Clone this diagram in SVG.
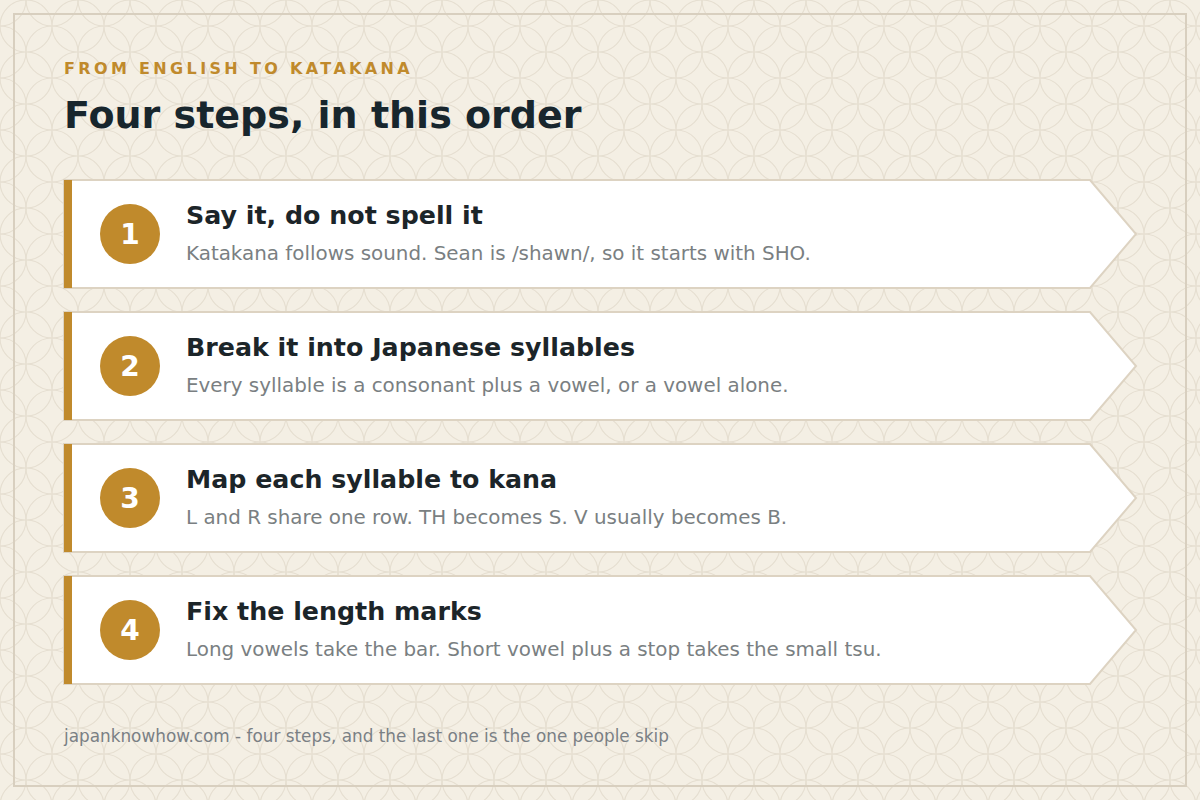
<svg xmlns="http://www.w3.org/2000/svg" width="1200" height="800" viewBox="0 0 1200 800">
<defs>
<pattern id="shippo" x="0" y="0" width="52" height="52" patternUnits="userSpaceOnUse">
<g fill="none" stroke="#e6dfd1" stroke-width="1.2">
<circle cx="0" cy="0" r="26"/><circle cx="52" cy="0" r="26"/><circle cx="0" cy="52" r="26"/><circle cx="52" cy="52" r="26"/><circle cx="26" cy="26" r="26"/>
</g>
</pattern>
<style>
.card{fill:#ffffff;stroke:#ddd3c2;stroke-width:2}
.bar{fill:#c08a2c}
.badge{fill:#c08a2c}
.num{font-family:"DejaVu Sans",sans-serif;font-weight:bold;font-size:28px;fill:#ffffff;text-anchor:middle}
.title{font-family:"DejaVu Sans",sans-serif;font-weight:bold;font-size:25.3px;fill:#1c2529}
.desc{font-family:"DejaVu Sans",sans-serif;font-size:19.9px;fill:#7a7f82}
</style>
</defs>
<rect x="0" y="0" width="1200" height="800" fill="#f4efe4"/>
<rect x="0" y="0" width="1200" height="800" fill="url(#shippo)"/>
<rect x="14" y="14" width="1172" height="772" fill="none" stroke="#d8cfbf" stroke-width="2"/>
<text x="64" y="74" font-family="DejaVu Sans,sans-serif" font-weight="bold" font-size="16" letter-spacing="3.35" fill="#c08a2c">FROM ENGLISH TO KATAKANA</text>
<text x="64" y="128" font-family="DejaVu Sans,sans-serif" font-weight="bold" font-size="38" fill="#18262d">Four steps, in this order</text>
<g id="connectors"></g>
<g id="step1">
<path class="card" d="M64 180 H1090 L1136 234 L1090 288 H64 Z"/>
<rect class="bar" x="64" y="180" width="8" height="108"/>
<circle class="badge" cx="130" cy="234" r="30"/>
<text class="num" x="130" y="244">1</text>
<text class="title" x="186" y="224">Say it, do not spell it</text>
<text class="desc" x="186" y="260">Katakana follows sound. Sean is /shawn/, so it starts with SHO.</text>
</g>
<g id="step2">
<path class="card" d="M64 312 H1090 L1136 366 L1090 420 H64 Z"/>
<rect class="bar" x="64" y="312" width="8" height="108"/>
<circle class="badge" cx="130" cy="366" r="30"/>
<text class="num" x="130" y="376">2</text>
<text class="title" x="186" y="356">Break it into Japanese syllables</text>
<text class="desc" x="186" y="392">Every syllable is a consonant plus a vowel, or a vowel alone.</text>
</g>
<g id="step3">
<path class="card" d="M64 444 H1090 L1136 498 L1090 552 H64 Z"/>
<rect class="bar" x="64" y="444" width="8" height="108"/>
<circle class="badge" cx="130" cy="498" r="30"/>
<text class="num" x="130" y="508">3</text>
<text class="title" x="186" y="488">Map each syllable to kana</text>
<text class="desc" x="186" y="524">L and R share one row. TH becomes S. V usually becomes B.</text>
</g>
<g id="step4">
<path class="card" d="M64 576 H1090 L1136 630 L1090 684 H64 Z"/>
<rect class="bar" x="64" y="576" width="8" height="108"/>
<circle class="badge" cx="130" cy="630" r="30"/>
<text class="num" x="130" y="640">4</text>
<text class="title" x="186" y="620">Fix the length marks</text>
<text class="desc" x="186" y="656">Long vowels take the bar. Short vowel plus a stop takes the small tsu.</text>
</g>
<text x="64" y="742" font-family="DejaVu Sans,sans-serif" font-size="16.85" fill="#7a8085">japanknowhow.com - four steps, and the last one is the one people skip</text>
</svg>
